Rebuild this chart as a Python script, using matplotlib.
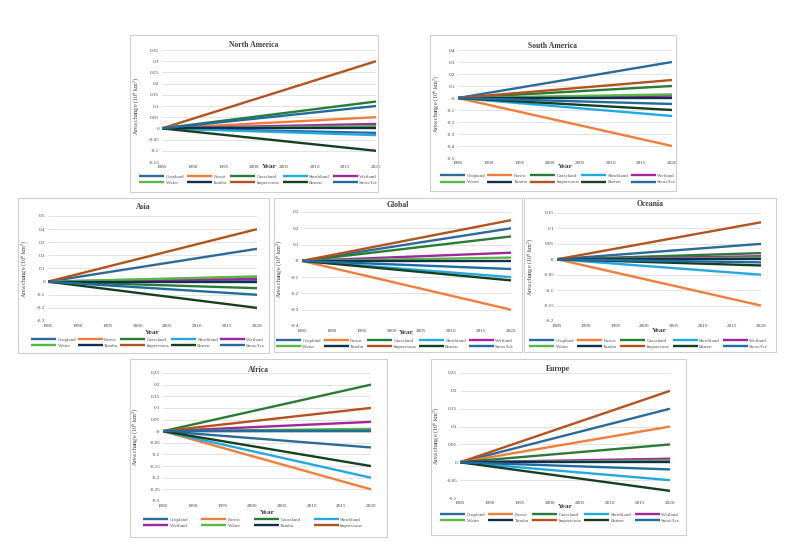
import numpy as np
import matplotlib
matplotlib.use('Agg')
import matplotlib.pyplot as plt
from matplotlib.patches import Rectangle
from matplotlib.ticker import FuncFormatter

plt.rcParams['font.family'] = ['Liberation Serif', 'DejaVu Serif']
plt.rcParams['mathtext.fontset'] = 'stix'
plt.rcParams['axes.unicode_minus'] = False

W, H = 791, 542

# Years at start and end of the period
years = [1985, 2020]

classes = ['Cropland', 'Forest', 'Grassland', 'Shrubland', 'Wetland',
           'Water', 'Tundra', 'Impervious', 'Barren', 'Snow/Ice']
colors = ['#2B6A9B', '#F07E38', '#2A7B35', '#22A9E1', '#A3269F',
          '#58B947', '#10304F', '#B4521E', '#163F1F', '#1F6C9E']

# Area change in 2020 relative to 1985 (10^6 km^2), in order of `classes`
north_america = [-0.02, 0.05, 0.12, -0.03, 0.02, 0.01, 0.0, 0.30, -0.10, 0.10]
south_america = [0.30, -0.40, 0.10, -0.15, 0.02, 0.03, 0.0, 0.15, -0.10, -0.05]
asia = [0.25, 0.035, -0.05, 0.01, 0.02, 0.04, 0.0, 0.40, -0.20, -0.10]
global_ = [0.20, -0.30, 0.15, -0.10, 0.05, 0.02, 0.0, 0.25, -0.12, -0.05]
oceania = [0.05, -0.15, 0.02, -0.05, 0.01, 0.005, 0.0, 0.12, -0.02, -0.01]
africa = [-0.07, -0.25, 0.20, -0.20, 0.04, 0.01, 0.0, 0.10, -0.15, 0.0]
europe = [0.15, 0.10, 0.05, -0.05, 0.01, 0.005, 0.0, 0.20, -0.08, -0.02]

fig = plt.figure(figsize=(W / 100, H / 100), dpi=100)
fig.patch.set_facecolor('white')


def fx(px):
    return px / W


def fy(py):
    return 1 - py / H


def panel(title, values, frame, plot, ylim, step, title_y, year_y, leg_rows, leg_x, ylab_x, ncol=5, nleg=10):
    x0, y0, x1, y1 = frame
    fig.patches.append(Rectangle((fx(x0), fy(y1)), fx(x1) - fx(x0), (y1 - y0) / H,
                                 transform=fig.transFigure, fill=False,
                                 edgecolor='#CFCFCF', lw=0.8))
    px0, py0, px1, py1 = plot
    ax = fig.add_axes([fx(px0), fy(py1), fx(px1) - fx(px0), (py1 - py0) / H])
    handles = []
    for name, col, v in zip(classes, colors, values):
        h, = ax.plot(years, [0, v], color=col, lw=1.7, label=name, solid_capstyle='butt')
        handles.append(h)
    ax.set_xlim(1985, 2020)
    ax.set_ylim(*ylim)
    ax.set_xticks(range(1985, 2021, 5))
    ax.set_yticks(np.round(np.arange(ylim[0], ylim[1] + step / 2, step), 3))
    ax.yaxis.set_major_formatter(FuncFormatter(lambda v, p: '%g' % round(v, 3)))
    ax.tick_params(length=0, labelsize=3.7, pad=2, labelcolor='#404040')
    ax.grid(axis='y', color='#D9D9D9', lw=0.5)
    ax.set_axisbelow(True)
    for s in ax.spines.values():
        s.set_visible(False)
    fig.text(fx((x0 + x1) / 2), fy(title_y), title, ha='center', va='center',
             fontsize=5.6, fontweight='bold', color='#404040')
    fig.text(fx((px0 + px1) / 2), fy(year_y), 'Year', ha='center', va='center',
             fontsize=5.4, fontweight='bold', color='#404040')
    fig.text(fx(ylab_x), fy((py0 + py1) / 2), r'Area change (10$^6$ km$^2$)',
             rotation=90, ha='center', va='center', fontsize=4.4, color='#404040')
    # row-wise legend order
    hs = handles[:nleg]
    nrow = 2
    order = [r * ncol + c for c in range(ncol) for r in range(nrow)]
    r1, r2 = leg_rows
    lx0, lx1 = leg_x
    leg = ax.legend([hs[i] for i in order], [classes[i] for i in order],
                    ncol=ncol, loc='center', mode='expand', frameon=False,
                    bbox_to_anchor=(fx(lx0), fy(r2 + 3.5), fx(lx1) - fx(lx0), (r2 - r1 + 7) / H),
                    bbox_transform=fig.transFigure, fontsize=3.6, handlelength=5.0,
                    handletextpad=0.3, borderaxespad=0, borderpad=0, labelspacing=0.35,
                    columnspacing=0.4)
    for t in leg.get_texts():
        t.set_color('#505050')
    return ax


panel('North America', north_america, (130, 35, 378, 192), (162, 50, 376, 162),
      (-0.15, 0.35), 0.05, 45, 167, (176, 183), (139, 378), 137)
panel('South America', south_america, (430, 35, 676, 191), (458, 50, 672, 158),
      (-0.5, 0.4), 0.1, 46, 167, (176, 182), (440, 676), 437)
panel('Asia', asia, (18, 198, 269, 353), (48, 216, 257, 321),
      (-0.3, 0.5), 0.1, 207, 332, (339, 346), (31, 265), 25)
panel('Global', global_, (274, 198, 522, 352), (302, 212, 511, 326),
      (-0.4, 0.3), 0.1, 205, 332, (340, 347), (276, 514), 280)
panel('Oceania', oceania, (524, 198, 776, 352), (557, 213, 761, 321),
      (-0.2, 0.15), 0.05, 204, 331, (340, 347), (529, 768), 531)
panel('Africa', africa, (130, 359, 387, 537), (163, 373, 371, 501),
      (-0.3, 0.25), 0.05, 370, 513, (519, 526), (143, 363), 136, ncol=4, nleg=8)
panel('Europe', europe, (431, 359, 686, 535), (460, 373, 670, 498),
      (-0.1, 0.25), 0.05, 369, 506, (514, 521), (440, 680), 437)

fig.savefig('out.png', dpi=100)
